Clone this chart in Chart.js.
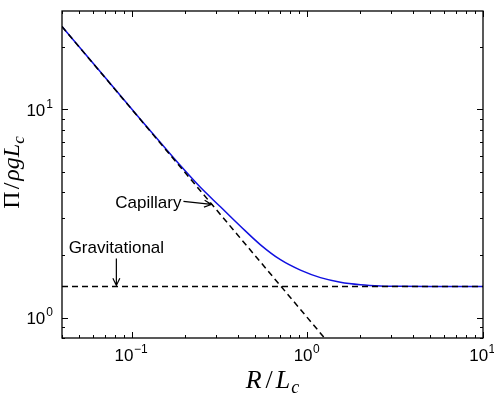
<!DOCTYPE html>
<html>
<head>
<meta charset="utf-8">
<script src="https://cdn.jsdelivr.net/npm/chart.js@4/dist/chart.umd.min.js"></script>
<style>
  html, body { margin: 0; padding: 0; background: #fff; }
  #wrap { width: 494px; height: 396px; position: relative; }
</style>
</head>
<body>
<div id="wrap"><canvas id="c"></canvas></div>
<script>
// full solution
const radius = [0.04, 0.06, 0.08, 0.1118, 0.1454, 0.189, 0.2456, 0.3195, 0.4155, 0.5405, 0.7016, 0.912, 1.186, 1.541, 2.004, 2.606, 3.39, 5.02, 10];
const pressure = [25.0, 16.7, 12.55, 8.98, 6.94, 5.38, 4.23, 3.41, 2.75, 2.24, 1.90, 1.693, 1.559, 1.483, 1.443, 1.423, 1.416, 1.414, 1.414];
// asymptotes
const capillaryR = [0.04, 1.3];
const capillaryP = [25.0, 0.77];
const gravityR = [0.04, 10];
const gravityP = [1.414, 1.414];
// tick labels (powers of ten)
const xTickExp = [-1, 0, 1];
const yTickExp = [0, 1];
// annotation tips
const capTip = [0.284, 3.50];
const gravTip = [0.0816, 1.414];

const toXY = (xs, ys) => xs.map((x, i) => ({x: x, y: ys[i]}));

function arrow(ctx, x0, y0, x1, y1) {
  const a = Math.atan2(y1 - y0, x1 - x0), L = 8, W = 0.45;
  ctx.beginPath();
  ctx.moveTo(x0, y0); ctx.lineTo(x1, y1);
  ctx.moveTo(x1 - L * Math.cos(a - W), y1 - L * Math.sin(a - W));
  ctx.lineTo(x1, y1);
  ctx.lineTo(x1 - L * Math.cos(a + W), y1 - L * Math.sin(a + W));
  ctx.stroke();
}

// draw a row of text pieces [text, font, dy, gapBefore], anchored at its centre
function pieces(ctx, parts, cx, y) {
  let w = 0;
  parts.forEach(p => { ctx.font = p[1]; w += ctx.measureText(p[0]).width + (p[3] || 0); });
  let x = cx - w / 2;
  parts.forEach(p => {
    ctx.font = p[1];
    x += p[3] || 0;
    ctx.fillText(p[0], x, y + (p[2] || 0));
    x += ctx.measureText(p[0]).width;
  });
}

const decor = {
  id: 'decor',
  afterDraw(chart) {
    const {ctx, chartArea: a, scales: {x, y}} = chart;
    ctx.save();
    ctx.strokeStyle = '#000';
    ctx.fillStyle = '#000';
    ctx.lineWidth = 1.3;
    ctx.strokeRect(a.left, a.top, a.right - a.left, a.bottom - a.top);

    // inward ticks on all four sides
    ctx.lineWidth = 1;
    const logTicks = (s) => {
      const out = [];
      for (let e = Math.floor(Math.log10(s.min)); e <= Math.ceil(Math.log10(s.max)); e++) {
        for (let m = 1; m <= 9; m++) {
          const v = m * Math.pow(10, e);
          if (v >= s.min * 0.999 && v <= s.max * 1.001) out.push([v, m === 1]);
        }
      }
      return out;
    };
    ctx.beginPath();
    logTicks(x).forEach(([v, major]) => {
      const px = Math.round(x.getPixelForValue(v)) + 0.5, len = major ? 6 : 3;
      ctx.moveTo(px, a.bottom); ctx.lineTo(px, a.bottom - len);
      ctx.moveTo(px, a.top); ctx.lineTo(px, a.top + len);
    });
    logTicks(y).forEach(([v, major]) => {
      const py = Math.round(y.getPixelForValue(v)) + 0.5, len = major ? 6 : 3;
      ctx.moveTo(a.left, py); ctx.lineTo(a.left + len, py);
      ctx.moveTo(a.right, py); ctx.lineTo(a.right - len, py);
    });
    ctx.stroke();

    // tick labels 10^n
    const big = '17px "Liberation Sans", Arial, sans-serif';
    const small = '12px "Liberation Sans", Arial, sans-serif';
    ctx.textBaseline = 'alphabetic';
    ctx.textAlign = 'left';
    xTickExp.forEach(e => {
      const sup = e < 0 ? '\u2212' + (-e) : String(e);
      ctx.font = big; const w1 = ctx.measureText('10').width;
      ctx.font = small; const w2 = ctx.measureText(sup).width;
      const px = x.getPixelForValue(Math.pow(10, e)) - (w1 + w2) / 2 - 1;
      ctx.font = big; ctx.fillText('10', px, 361);
      ctx.font = small; ctx.fillText(sup, px + w1 + 0.5, 353);
    });
    yTickExp.forEach(e => {
      const sup = String(e);
      ctx.font = small; const w2 = ctx.measureText(sup).width;
      ctx.font = big; const w1 = ctx.measureText('10').width;
      const py = y.getPixelForValue(Math.pow(10, e));
      const px = a.left - 10 - w2 - w1;
      ctx.fillText('10', px, py + 6.5);
      ctx.font = small; ctx.fillText(sup, px + w1 + 1, py - 1.5);
    });

    // axis titles
    const it = (s) => 'italic ' + s + 'px "Liberation Serif", "Times New Roman", serif';
    const up = (s) => s + 'px "Liberation Serif", "Times New Roman", serif';
    pieces(ctx, [['R', it(26)], ['/', up(26), 0, 4], ['L', it(26), 0, 3], ['c', it(18), 5, 1]],
      (a.left + a.right) / 2, 388);
    ctx.save();
    ctx.translate(19, (a.top + a.bottom) / 2 - 2);
    ctx.rotate(-Math.PI / 2);
    pieces(ctx, [['\u03A0', up(24)], ['/', up(24), 0, 2], ['\u03C1', it(24), 0, 2], ['g', it(24), 0, 0],
      ['L', it(24), 0, 0], ['c', it(17), 5, 0]], 0, 0);
    ctx.restore();

    // annotations
    ctx.font = '17px "Liberation Sans", Arial, sans-serif';
    ctx.lineWidth = 1.2;
    const ct = [x.getPixelForValue(capTip[0]), y.getPixelForValue(capTip[1])];
    ctx.textAlign = 'right';
    ctx.fillText('Capillary', ct[0] - 30, ct[1] + 4);
    arrow(ctx, ct[0] - 28, ct[1] - 3, ct[0], ct[1]);
    const gt = [x.getPixelForValue(gravTip[0]), y.getPixelForValue(gravTip[1])];
    ctx.textAlign = 'center';
    ctx.fillText('Gravitational', gt[0], gt[1] - 33);
    arrow(ctx, gt[0], gt[1] - 28, gt[0], gt[1] - 1);
    ctx.restore();
  }
};

new Chart(document.getElementById('c'), {
  type: 'scatter',
  data: {
    datasets: [
      {
        label: 'Capillary',
        data: toXY(capillaryR, capillaryP),
        showLine: true,
        borderColor: '#000',
        borderWidth: 1.5,
        borderDash: [6, 4],
        pointRadius: 0
      },
      {
        label: 'Gravitational',
        data: toXY(gravityR, gravityP),
        showLine: true,
        borderColor: '#000',
        borderWidth: 1.5,
        borderDash: [6, 4],
        pointRadius: 0
      },
      {
        label: 'Pi',
        data: toXY(radius, pressure),
        showLine: true,
        borderColor: '#1010e0',
        borderWidth: 1.5,
        cubicInterpolationMode: 'monotone',
        pointRadius: 0
      }
    ]
  },
  options: {
    responsive: true,
    maintainAspectRatio: false,
    animation: false,
    layout: { padding: { left: 62, right: 11, top: 11, bottom: 58 } },
    plugins: { legend: { display: false }, tooltip: { enabled: false } },
    scales: {
      x: {
        type: 'logarithmic',
        min: 0.04,
        max: 10,
        ticks: { display: false },
        grid: { display: false, drawTicks: false, tickLength: 0 },
        border: { display: false }
      },
      y: {
        type: 'logarithmic',
        min: 0.8,
        max: 29.7,
        ticks: { display: false },
        grid: { display: false, drawTicks: false, tickLength: 0 },
        border: { display: false }
      }
    }
  },
  plugins: [decor]
});
</script>
</body>
</html>
